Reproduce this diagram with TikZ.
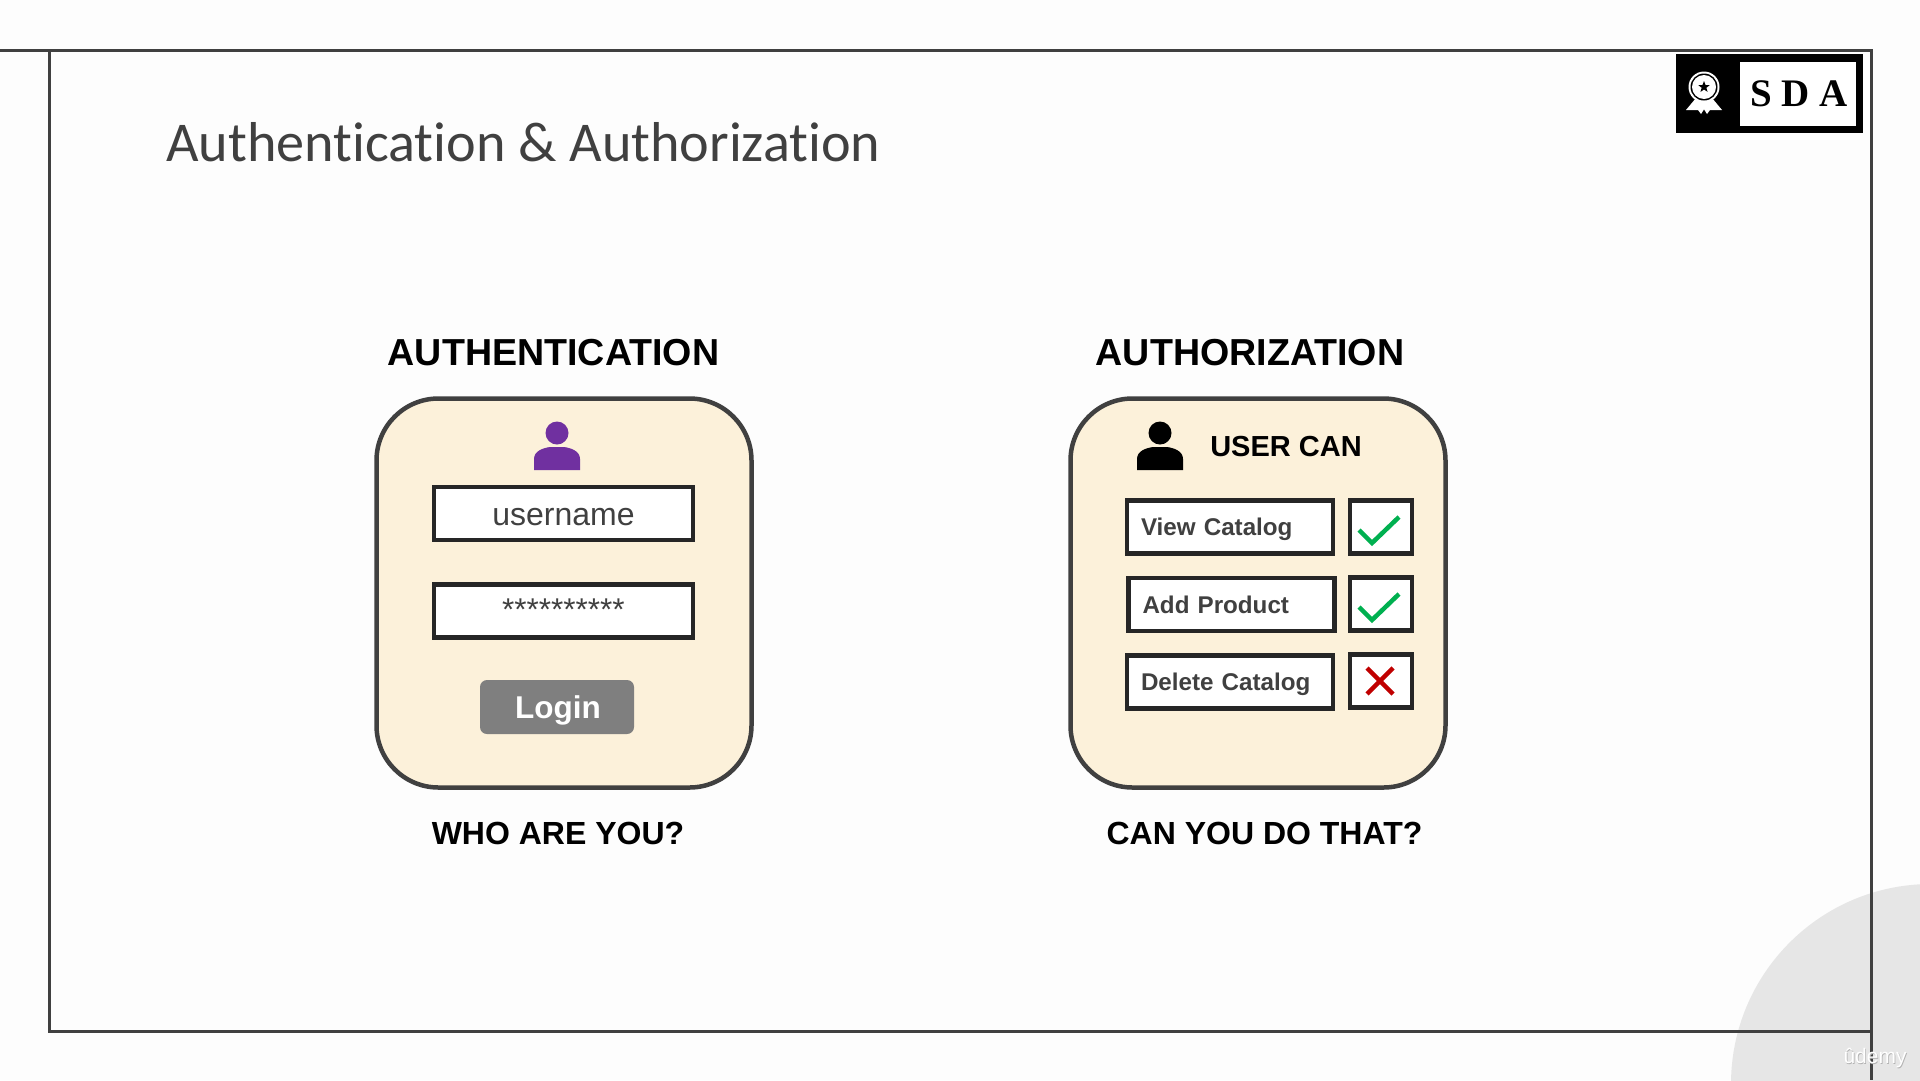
\documentclass[tikz,border=0pt]{standalone}
\usepackage{fontspec}
\setmainfont{Liberation Sans}
\newfontfamily\titlefont[RawFeature={-liga;-clig}]{Carlito}
\newfontfamily\logofont{Liberation Serif}
\usetikzlibrary{shapes.geometric}
\definecolor{pagebg}{HTML}{FDFDFD}
\definecolor{framecol}{HTML}{404040}
\definecolor{panelcol}{HTML}{FCF1DA}
\definecolor{loginbg}{HTML}{7F7F7F}
\definecolor{okcol}{HTML}{00B050}
\definecolor{nocol}{HTML}{C00000}
\definecolor{usercol}{HTML}{7030A0}
\definecolor{discol}{HTML}{E6E6E6}
\newcommand{\fs}[1]{\fontsize{#1}{#1}\selectfont}
\tikzset{
	framerule/.style = {draw = framecol, line width = 3pt},
	panel/.style = {draw = framecol, line width = 4.5pt, fill = panelcol, rounded corners = 62pt, minimum width = 375pt, minimum height = 389pt, inner sep = 0pt},
	fieldbox/.style = {draw = black!85, line width = 4.5pt, fill = white, minimum width = 259pt, minimum height = 53pt, inner sep = 0pt, text = framecol},
	rowbox/.style = {draw = black!85, line width = 4.5pt, fill = white, minimum width = 206pt, minimum height = 53pt, inner sep = 0pt, text width = 178pt, align = left, text height = 20pt, text depth = 2.8pt, text = framecol, font = \fs{24.2}\bfseries},
	tickbox/.style = {draw = black!85, line width = 4.5pt, fill = white, minimum width = 62pt, minimum height = 53pt, inner sep = 0pt},
	heading/.style = {font = \fs{37.6}\bfseries, text = black, inner sep = 0pt},
	subheading/.style = {font = \fs{32}\bfseries, text = black, inner sep = 0pt},
	tickmark/.style = {draw = okcol, line width = 4.5pt},
	crossmark/.style = {draw = nocol, line width = 4.5pt},
	usericon/.pic = {
		\fill (0,0) circle (11.5);
		\fill (-23,37) -- (-23,26) .. controls (-23,18) and (-14,15) .. (-7,14) -- (7,14) .. controls (14,15) and (23,18) .. (23,26) -- (23,37) -- cycle;
	},
}
\begin{document}
\begin{tikzpicture}[x = 1pt, y = -1pt]
	\useasboundingbox (0,0) rectangle (1920,1080);
	\fill[pagebg] (0,0) rectangle (1920,1080);
	\begin{scope}
		\clip (0,0) rectangle (1920,1080);
		\fill[discol] (1931,1084) circle (200);
	\end{scope}
	\coordinate (f_1) at (0,50);
	\coordinate (f_2) at (1871,50);
	\coordinate (f_3) at (1871,1080);
	\coordinate (f_4) at (49,50);
	\coordinate (f_5) at (49,1031);
	\coordinate (f_6) at (1871,1031);
	\draw[framerule] (f_1) -- (f_2) -- (f_3);
	\draw[framerule] (f_4) -- (f_5) -- (f_6);

	\node[fill = black, minimum width = 187pt, minimum height = 79pt, inner sep = 0pt] (logo) at (1769.5,93.5) {};
	\node[fill = white, minimum width = 116pt, minimum height = 64pt, inner sep = 0pt, font = \logofont\fs{39}\bfseries] (logo_t) at (1798,94) {\hspace{1.5pt}S D A};
	\fill[white] (1696,98) -- (1686,110) -- (1698,110) -- (1701,114) -- (1708,103) -- cycle;
	\fill[white] (1712,98) -- (1722,110) -- (1710,110) -- (1707,114) -- (1700,103) -- cycle;
	\fill[white] (1704,87) circle (15.5);
	\fill[black] (1704,87) circle (13.5);
	\fill[white] (1704,87) circle (12);
	\node[star, star points = 5, star point ratio = 2.4, fill = black, minimum size = 12pt, inner sep = 0pt] (logo_s) at (1704,87) {};

	\node[anchor = base west, inner sep = 0pt, text = framecol, font = \titlefont\fs{56.2}] (title) at (166,161) {Authentication \& Authorization};

	\node[heading] (h_1) at (553.5,353) {AUTHENTICATION};
	\node[heading] (h_2) at (1250,353) {AUTHORIZATION};

	\node[panel] (p_1) at (564,593) {};
	\node[panel] (p_2) at (1258,593) {};

	\pic[fill = usercol] at (557,433) {usericon};
	\node[fieldbox, font = \fs{32}, text height = 24pt, text depth = 0pt] (user) at (563.5,513.5) {username};
	\node[fieldbox] (pass) at (563.5,611) {};
	\node[inner sep = 0pt, text = framecol, font = \fs{31.5}] (pass_t) at (563.5,610) {**********};
	\node[fill = loginbg, rounded corners = 7pt, minimum width = 154pt, minimum height = 54pt, inner sep = 0pt, text height = 30pt, text depth = 6.2pt, text = white, font = \fs{31.5}\bfseries] (login) at (557,707) {\hspace{2pt}Login};

	\pic[fill = black] at (1160,433) {usericon};
	\node[inner sep = 0pt, font = \fs{29}\bfseries] (can) at (1286,447) {USER CAN};

	\node[rowbox] (r_1) at (1230,527) {View Catalog};
	\node[rowbox] (r_2) at (1231.5,604.5) {Add Product};
	\node[rowbox] (r_3) at (1230,682) {Delete Catalog};
	\node[tickbox] (t_1) at (1381,527) {};
	\node[tickbox] (t_2) at (1381,604) {};
	\node[tickbox] (t_3) at (1381,681) {};
	\draw[tickmark] (1359,530) -- (1372,543) -- (1399,517);
	\draw[tickmark] (1359,607) -- (1372,620) -- (1399,594);
	\draw[crossmark] (1367,668) -- (1393,694);
	\draw[crossmark] (1393,668) -- (1367,694);

	\node[subheading] (q_1) at (558,833) {WHO ARE YOU?};
	\node[subheading] (q_2) at (1264.5,833) {CAN YOU DO THAT?};

	\node[text = black!30, inner sep = 0pt, font = \fs{21}] (mark_s) at (1875.8,1058.6) {ûdemy};
	\node[text = white, inner sep = 0pt, font = \fs{21}] (mark) at (1875,1058) {ûdemy};
\end{tikzpicture}
\end{document}
